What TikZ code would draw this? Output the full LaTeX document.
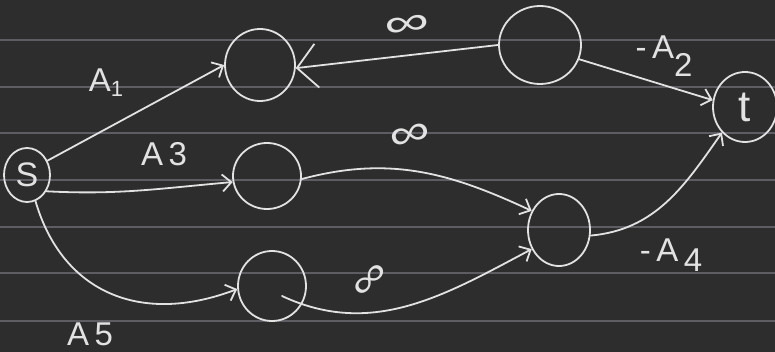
\documentclass[tikz,border=0pt]{standalone}
\usepackage{fontspec}
\setmainfont{Liberation Sans}
\usetikzlibrary{arrows.meta,shapes.geometric}
\definecolor{board}{HTML}{2D2D2D}
\definecolor{ruling}{HTML}{5E5D64}
\definecolor{chalk}{HTML}{E2E2E2}
\tikzset{
  vert/.style={ellipse, draw=chalk, line width=1.8pt, inner sep=0pt, text=chalk},
  lbl/.style={text=chalk, inner sep=0pt, font=\fontsize{33}{33}\selectfont},
  inf/.style={text=chalk, inner sep=0pt, font=\fontsize{30}{30}\selectfont},
  edge/.style={draw=chalk, line width=1.8pt, line cap=round,
    -{Straight Barb[length=9pt,width=17pt,line width=1.8pt]}},
  bigedge/.style={draw=chalk, line width=1.8pt, line cap=round,
    -{Straight Barb[length=20pt,width=44pt,line width=1.8pt]}}
}
\begin{document}
\begin{tikzpicture}[x=1pt,y=-1pt]
  % notebook page
  \fill[board] (0,0) rectangle (775,352);
  \useasboundingbox (0,0) rectangle (775,352);
  \foreach \yy in {40,87,133,180,227,273,321}
    \draw[ruling, line width=2pt] (0,\yy) -- (775,\yy);

  % vertices
  \node[vert, minimum width=46pt, minimum height=54pt,
        font=\fontsize{34}{34}\selectfont] (s) at (27,175) {S};
  \node[vert, minimum width=70pt, minimum height=72pt] (a) at (260,65) {};
  \node[vert, minimum width=82pt, minimum height=78pt] (b) at (540,45) {};
  \node[vert, minimum width=64pt, minimum height=70pt,
        font=\fontsize{44}{44}\selectfont] (t) at (745,107) {t};
  \node[vert, minimum width=68pt, minimum height=66pt] (c) at (267,176) {};
  \node[vert, minimum width=62pt, minimum height=72pt] (d) at (559,230) {};
  \node[vert, minimum width=68pt, minimum height=70pt] (e) at (272,286) {};
  \coordinate (einner) at (282,296);

  % arcs
  \draw[edge] (s.35) -- (a.180);
  \draw[bigedge] (b.180) -- (a.-5);
  \draw[edge] (b.-20) -- (t.168);
  \draw[edge] (s.-40) to[out=-3,in=185] (c.190);
  \draw[edge] (c.-5) to[out=15,in=155] (d.145);
  \draw[edge] (s.-72) .. controls (62,292) and (140,326) .. (e.185);
  \draw[edge] (einner) to[out=-25,in=208] (d.215);
  \draw[edge] (d.-10) to[out=5,in=235] (t.228);

  % capacities
  \node[lbl] (la1) at (106,83) {A\raisebox{-5pt}{\fontsize{22}{22}\selectfont 1}};
  \node[lbl] (la3) at (164,154) {A\,3};
  \node[lbl] (la5) at (90,334) {A\,5};
  \node[lbl] (la2) at (664,56) {-\,A\raisebox{-18pt}{2}};
  \node[lbl] (la4) at (671,255) {-\,A\,\raisebox{-10pt}{4}};
  \node[inf, rotate=8] (i1) at (407,26) {\scalebox{2.1}[1.3]{∞}};
  \node[inf, rotate=15] (i2) at (411,137) {\scalebox{1.9}[1.4]{∞}};
  \node[inf, rotate=45] (i3) at (371,281) {\scalebox{1.8}[1.2]{∞}};
\end{tikzpicture}
\end{document}
